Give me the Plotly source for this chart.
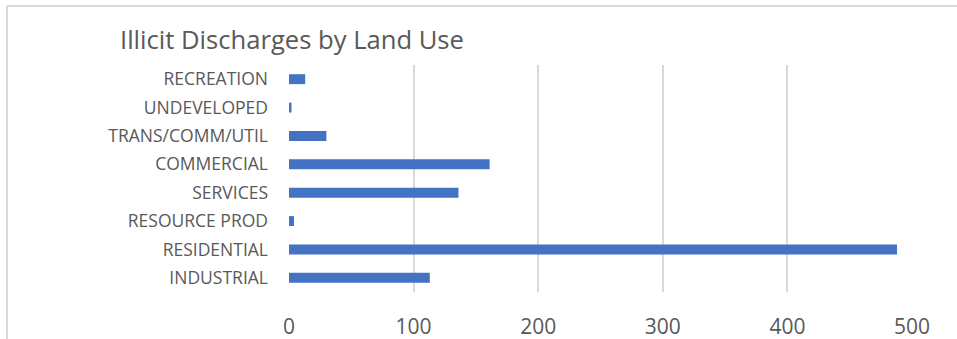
import plotly.graph_objects as go

categories = ["INDUSTRIAL", "RESIDENTIAL", "RESOURCE PROD", "SERVICES",
              "COMMERCIAL", "TRANS/COMM/UTIL", "UNDEVELOPED", "RECREATION"]
values = [113, 488, 4, 136, 161, 30, 2, 13]
x_ticks = [0, 100, 200, 300, 400, 500]
title_text = "Illicit Discharges by Land Use"

W, H = 957, 339
L, R, T, B = 289, 45, 65, 47
FONT = "'Open Sans', sans-serif"
GREY = "#595959"

fig = go.Figure(go.Bar(
    y=categories, x=values, orientation="h",
    marker=dict(color="#4472C4", line=dict(width=0)),
    width=0.35,
))

pw = W - L - R
ph = H - T - B
def px_to_paper_x(px):
    return (px - L) / pw
def px_to_paper_y(py):
    return (H - B - py) / ph

fig.update_layout(
    width=W, height=H,
    margin=dict(l=L, r=R, t=T, b=B, pad=0, autoexpand=False),
    paper_bgcolor="white", plot_bgcolor="white",
    showlegend=False,
    font=dict(family=FONT, color=GREY),
    title=dict(text=title_text, x=120 / W, xanchor="left", xref="container",
               y=1 - 40 / H, yanchor="middle", yref="container",
               font=dict(size=25.6, color=GREY, family=FONT)),
    xaxis=dict(range=[0, 500], tickvals=x_ticks, showgrid=True,
               gridcolor="#D9D9D9", gridwidth=1.5, zeroline=False,
               showline=False, ticks="", ticklabelstandoff=20, automargin=False,
               tickfont=dict(size=21, color=GREY, family=FONT), fixedrange=True),
    yaxis=dict(showgrid=False, showline=False, ticks="", ticklabelstandoff=20,
               automargin=False,
               categoryorder="array", categoryarray=categories,
               tickfont=dict(size=17.5, color=GREY, family=FONT),
               range=[-0.5, 7.5], fixedrange=True),
    shapes=[
        dict(type="line", xref="paper", yref="paper",
             x0=px_to_paper_x(7), x1=px_to_paper_x(W + 5),
             y0=px_to_paper_y(6), y1=px_to_paper_y(6),
             line=dict(color="#D9D9D9", width=2)),
        dict(type="line", xref="paper", yref="paper",
             x0=px_to_paper_x(7), x1=px_to_paper_x(7),
             y0=px_to_paper_y(6), y1=px_to_paper_y(H + 5),
             line=dict(color="#D9D9D9", width=2)),
    ],
)

fig.write_html("out.html", config={"displayModeBar": False},
               post_script="document.body.style.margin='0';document.body.style.overflow='hidden';")
